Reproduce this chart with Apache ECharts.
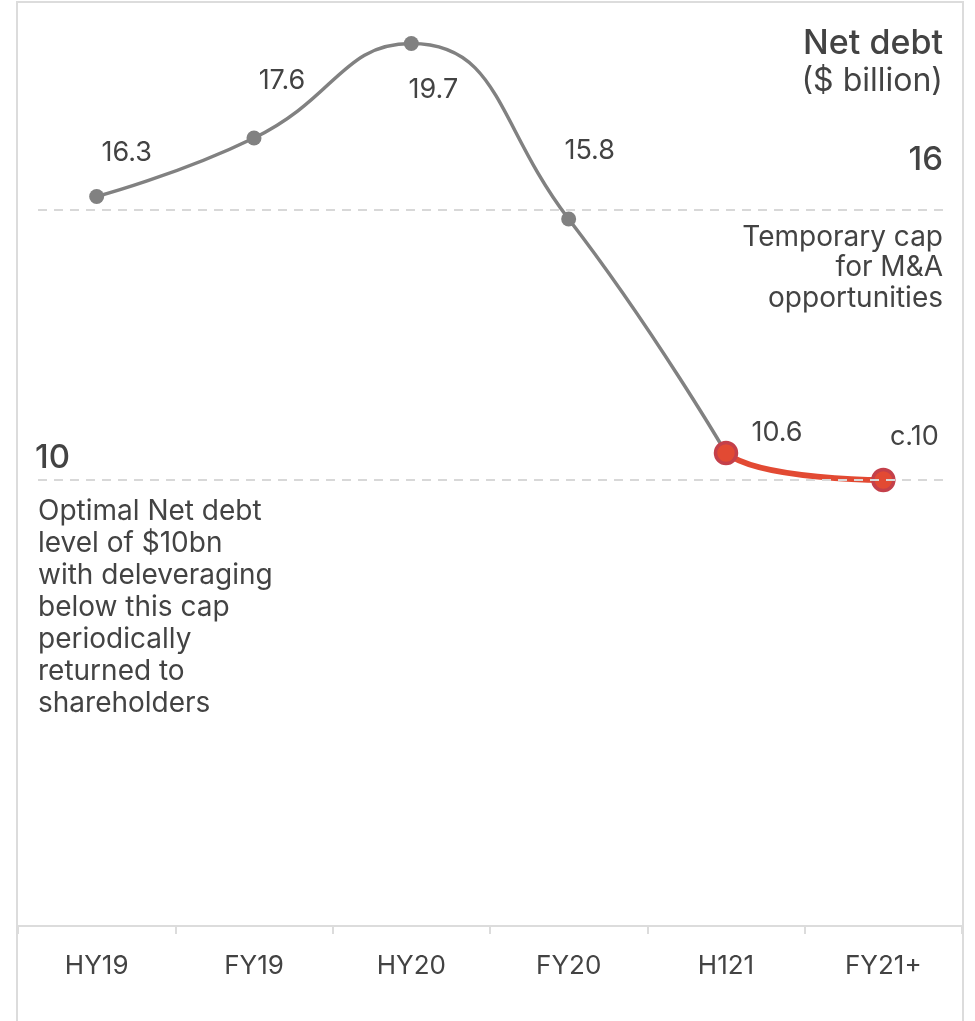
<!DOCTYPE html>
<html><head><meta charset="utf-8">
<script src="https://cdn.jsdelivr.net/npm/echarts@6/dist/echarts.min.js"></script>
<style>html,body{margin:0;padding:0;background:#fff}#c{width:975px;height:1021px}</style>
</head><body><div id="c"></div>
<script>
const categories = ['HY19','FY19','HY20','FY20','H121','FY21+'];
const netDebt = [16.3, 17.6, 19.7, 15.8, 10.6, 10.0];
const forecastStart = 4; // index from which the line is drawn in red
const valueLabels = ['16.3','17.6','19.7','15.8','10.6','c.10'];
const capLevels = [16, 10];
const capLabels = ['16', '10'];
const labelOffsets = [[30,-44],[28,-57],[22,46],[21,-68],[51,-20],[31,-43]];

const FONT = 'Inter';
const TXT = '#434343';
const GRAY = '#818181';
const RED = '#e24a33';
const CLEAR = 'rgba(255,255,255,0)';
const lastIdx = categories.length - 1;
const chart = echarts.init(document.getElementById('c'), null, {renderer:'canvas'});

const labelStyle = {show:true,color:TXT,fontFamily:FONT,fontSize:27,position:'inside'};

// gray: actual values up to and including the forecast start point
const grayData = netDebt.map((v,i)=> i<=forecastStart ? {value:v,
  symbol: i<forecastStart ? 'circle' : 'none',
  label:{show:i<forecastStart, formatter:valueLabels[i], offset:labelOffsets[i]}} : '-');
// red: full curve, only the part from forecastStart is made visible
const redData = netDebt.map((v,i)=>({value:v,
  symbol: i>=forecastStart ? 'circle' : 'none',
  label:{show:i>=forecastStart, formatter:valueLabels[i], offset:labelOffsets[i]}}));

chart.setOption({
  animation:false,
  grid:{left:18,right:13,top:30,bottom:91},
  xAxis:{type:'category',data:categories,boundaryGap:true,offset:-4,
    axisLine:{lineStyle:{color:'#dcdcdc',width:2}},
    axisTick:{show:true,length:8,lineStyle:{color:'#dcdcdc',width:2}},
    axisLabel:{color:TXT,fontFamily:FONT,fontSize:26,margin:27}},
  yAxis:{type:'value',min:0,max:20,show:false,splitLine:{show:false}},
  visualMap:[
    {type:'piecewise',show:false,seriesIndex:1,dimension:0,
      pieces:[{gte:0,lt:forecastStart,color:CLEAR},{gte:forecastStart,lte:lastIdx,color:RED}]}
  ],
  series:[
    {type:'line',data:grayData,smooth:0.5,
      symbolSize:15,itemStyle:{color:GRAY},lineStyle:{color:GRAY,width:3.5},
      label:labelStyle,
      markLine:{silent:true,symbol:'none',label:{show:false},
        lineStyle:{color:'#d8d8d8',type:[9,7],width:2},
        data:capLevels.map(v=>[{x:38,yAxis:v},{x:943,yAxis:v}])}},
    {type:'line',data:redData,smooth:0.3,z:3,
      symbolSize:21,itemStyle:{borderColor:'#c4404a',borderWidth:3.5},lineStyle:{width:6},
      label:labelStyle}
  ]
});

const y16 = chart.convertToPixel({yAxisIndex:0}, capLevels[0]);
const y10 = chart.convertToPixel({yAxisIndex:0}, capLevels[1]);
chart.setOption({
  graphic:[
    {type:'rect',shape:{x:17,y:2,width:946,height:1040},style:{fill:'none',stroke:'#dcdcdc',lineWidth:2},z:-1},
    {type:'text',x:943,y:44,style:{text:'Net debt',font:'500 34px '+FONT,fill:TXT,align:'right',verticalAlign:'middle'}},
    {type:'text',x:943,y:81,style:{text:'($ billion)',font:'400 32px '+FONT,fill:TXT,align:'right',verticalAlign:'middle'}},
    {type:'text',x:943,y:y16-50,style:{text:capLabels[0],font:'500 33px '+FONT,fill:TXT,align:'right',verticalAlign:'middle'}},
    {type:'text',x:943,y:y16+12,style:{text:'Temporary cap\nfor M&A\nopportunities',font:'400 28px '+FONT,lineHeight:30.5,fill:TXT,align:'right',verticalAlign:'top'}},
    {type:'text',x:35,y:y10-22,style:{text:capLabels[1],font:'500 33px '+FONT,fill:TXT,align:'left',verticalAlign:'middle'}},
    {type:'text',x:38,y:y10+16,style:{text:'Optimal Net debt\nlevel of $10bn\nwith deleveraging\nbelow this cap\nperiodically\nreturned to\nshareholders',font:'400 28px '+FONT,lineHeight:32,fill:TXT,align:'left',verticalAlign:'top'}}
  ]
});
</script></body></html>
